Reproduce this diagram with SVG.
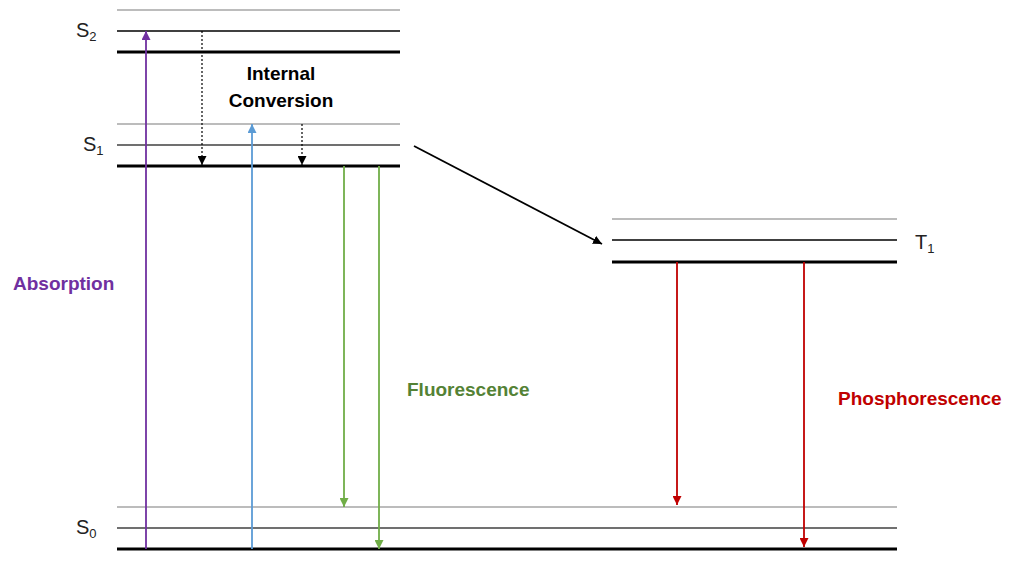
<svg xmlns="http://www.w3.org/2000/svg" width="1009" height="562" viewBox="0 0 1009 562">
<style>
.lv1{stroke:#a6a6a6;stroke-width:1.3;}
.lv2{stroke:#000;stroke-width:1.3;}
.lv2g{stroke:#404040;stroke-width:1.3;}
.lv3{stroke:#000;stroke-width:3;}
.st{font-family:"Liberation Sans",Arial,sans-serif;font-size:20px;fill:#222;}
.sub{font-size:13px;}
.lbl{font-family:"Liberation Sans",Arial,sans-serif;font-size:19px;font-weight:bold;}
.conn line{fill:none;}
</style>
<defs>
<marker id="ahP" viewBox="0 0 10 10" refX="10" refY="5" markerWidth="9" markerHeight="9" markerUnits="userSpaceOnUse" orient="auto"><path d="M0,0 L10,5 L0,10 z" fill="#7030A0"/></marker>
<marker id="ahB" viewBox="0 0 10 10" refX="10" refY="5" markerWidth="9" markerHeight="9" markerUnits="userSpaceOnUse" orient="auto"><path d="M0,0 L10,5 L0,10 z" fill="#5B9BD5"/></marker>
<marker id="ahG" viewBox="0 0 10 10" refX="10" refY="5" markerWidth="9" markerHeight="9" markerUnits="userSpaceOnUse" orient="auto"><path d="M0,0 L10,5 L0,10 z" fill="#70AD47"/></marker>
<marker id="ahR" viewBox="0 0 10 10" refX="10" refY="5" markerWidth="9" markerHeight="9" markerUnits="userSpaceOnUse" orient="auto"><path d="M0,0 L10,5 L0,10 z" fill="#C00000"/></marker>
<marker id="ahK" viewBox="0 0 10 10" refX="10" refY="5" markerWidth="9" markerHeight="9" markerUnits="userSpaceOnUse" orient="auto"><path d="M0,0 L10,5 L0,10 z" fill="#000"/></marker>
</defs>
<rect width="1009" height="562" fill="#fff"/>

<g id="S2">
<line class="lv1" x1="117" y1="10" x2="400" y2="10"/>
<line class="lv2" x1="117" y1="31" x2="400" y2="31"/>
<line class="lv3" x1="117" y1="52" x2="400" y2="52"/>
<text class="st" x="76" y="37">S<tspan class="sub" dy="4">2</tspan></text>
</g>
<g id="S1">
<line class="lv1" x1="117" y1="124" x2="400" y2="124"/>
<line class="lv2g" x1="117" y1="145" x2="400" y2="145"/>
<line class="lv3" x1="117" y1="166" x2="400" y2="166"/>
<text class="st" x="83" y="151">S<tspan class="sub" dy="4">1</tspan></text>
</g>
<g id="S0">
<line class="lv1" x1="117" y1="507" x2="897" y2="507"/>
<line class="lv2g" x1="117" y1="528" x2="897" y2="528"/>
<line class="lv3" x1="117" y1="549" x2="897" y2="549"/>
<text class="st" x="76" y="534">S<tspan class="sub" dy="4">0</tspan></text>
</g>
<g id="T1">
<line class="lv1" x1="612" y1="219" x2="897" y2="219"/>
<line class="lv2" x1="612" y1="240" x2="897" y2="240"/>
<line class="lv3" x1="612" y1="262" x2="897" y2="262"/>
<text class="st" x="915" y="249">T<tspan class="sub" dy="4">1</tspan></text>
</g>

<g id="connectors" class="conn">
<line x1="146" y1="549" x2="146" y2="31" stroke="#7030A0" stroke-width="1.8" marker-end="url(#ahP)"/>
<line x1="252" y1="549" x2="252" y2="124" stroke="#5B9BD5" stroke-width="1.8" marker-end="url(#ahB)"/>
<line x1="202" y1="31" x2="202" y2="165" stroke="#000" stroke-width="1.2" stroke-dasharray="2,2" marker-end="url(#ahK)"/>
<line x1="302" y1="124" x2="302" y2="165" stroke="#000" stroke-width="1.2" stroke-dasharray="2,2" marker-end="url(#ahK)"/>
<line x1="344" y1="166" x2="344" y2="507" stroke="#70AD47" stroke-width="1.8" marker-end="url(#ahG)"/>
<line x1="379" y1="166" x2="379" y2="549" stroke="#70AD47" stroke-width="1.8" marker-end="url(#ahG)"/>
<line x1="677" y1="262" x2="677" y2="505" stroke="#C00000" stroke-width="1.8" marker-end="url(#ahR)"/>
<line x1="804" y1="262" x2="804" y2="547" stroke="#C00000" stroke-width="1.8" marker-end="url(#ahR)"/>
<line x1="414" y1="146" x2="602" y2="244" stroke="#000" stroke-width="1.8" marker-end="url(#ahK)"/>
</g>

<g id="labels">
<text class="lbl" x="281" y="80" text-anchor="middle" fill="#000">Internal</text>
<text class="lbl" x="281" y="107" text-anchor="middle" fill="#000">Conversion</text>
<text class="lbl" x="13" y="290" fill="#7030A0">Absorption</text>
<text class="lbl" x="407" y="396" fill="#548235">Fluorescence</text>
<text class="lbl" x="838" y="405" fill="#C00000">Phosphorescence</text>
</g>
</svg>
